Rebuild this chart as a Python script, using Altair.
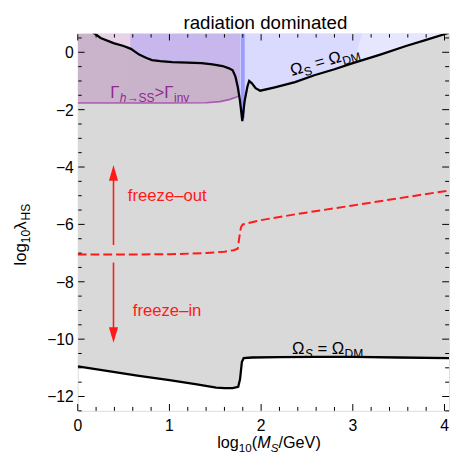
import altair as alt
import pandas as pd

# ---------------- data ----------------
upper_x = [0.12, 0.25, 0.39, 0.50, 0.58, 0.67, 0.75, 0.81, 0.90, 1.03, 1.20, 1.35, 1.47, 1.58, 1.65,
           1.69, 1.72, 1.745, 1.77, 1.795, 1.82, 1.85, 1.87, 1.90, 1.94, 1.99, 2.15, 2.37, 2.58,
           2.80, 3.00, 3.30, 3.58, 3.80, 4.05]
upper_y = [0.80, 0.50, 0.32, 0.22, 0.12, -0.08, -0.20, -0.27, -0.31, -0.34, -0.36, -0.38, -0.42,
           -0.48, -0.56, -0.63, -0.85, -1.20, -1.70, -2.40, -1.70, -1.20, -1.00, -1.08, -1.25,
           -1.34, -1.22, -1.04, -0.80, -0.59, -0.38, -0.08, 0.22, 0.43, 0.68]

lower_x = [0.00, 0.30, 0.65, 1.00, 1.30, 1.51, 1.60, 1.69, 1.75, 1.77, 1.79, 1.81, 1.90, 2.20,
           2.60, 3.00, 3.50, 4.05]
lower_y = [-10.95, -11.10, -11.27, -11.43, -11.58, -11.69, -11.71, -11.71, -11.66, -11.40,
           -10.80, -10.66, -10.64, -10.63, -10.62, -10.62, -10.64, -10.66]

fo_x = [0.00, 0.50, 1.00, 1.40, 1.60, 1.70, 1.745, 1.76, 1.78, 1.80, 2.00, 2.37, 3.00, 3.50, 4.05]
fo_y = [-7.05, -7.05, -7.04, -7.00, -6.95, -6.90, -6.85, -6.50, -6.10, -6.00, -5.85, -5.65,
        -5.34, -5.09, -4.82]

purple_x = [0.00, 1.00, 1.40, 1.55, 1.65, 1.72, 1.77]
purple_y = [-1.77, -1.77, -1.76, -1.72, -1.65, -1.58, -1.50]

blue_start = 0.58          # left edge of the blue region
blueB_end = 3.00           # last curve point inside the darker blue patch
blueB_corner = (3.10, 0.70)

band_x = [1.80]
band_y = [-2.30]

arrow_x = [0.39]
up_from, up_to, up_tip = [-6.72], [-4.45], [-3.93]
dn_from, dn_to, dn_tip = [-7.33], [-9.62], [-10.13]

x_major = [0, 1, 2, 3, 4]
x_labels = ["0", "1", "2", "3", "4"]
y_major = [0, -2, -4, -6, -8, -10, -12]
y_labels = ["0", "\u22122", "\u22124", "\u22126", "\u22128", "\u221210", "\u221212"]
x_minor = [round(0.2 * i, 1) for i in range(0, 21) if i % 5 != 0]
y_minor = [-0.5 * i for i in range(-1, 26) if i % 4 != 0]

# ---------------- layout ----------------
W, H = 378, 384
FONT = "Liberation Sans"
Y_TOP = 0.65
XS = alt.Scale(domain=[0, 4.05], nice=False, zero=False)
YS = alt.Scale(domain=[-12.5, Y_TOP], nice=False, zero=False)

GRAY = "#d9d9d9"
RED = "#ff1a1a"
PURPLE_TXT = "#8e2a8e"

def X(f="x", **kw):
    return alt.X(f + ":Q", scale=XS, axis=None, **kw)

def Y(f="y", **kw):
    return alt.Y(f + ":Q", scale=YS, axis=None, **kw)

def with_top(df):
    df = df.copy()
    df["top"] = Y_TOP + 0.1     # areas reach past the frame top; clipped
    return df

upper = pd.DataFrame({"x": upper_x, "y": upper_y})
lower = pd.DataFrame({"x": lower_x, "y": lower_y})
fo = pd.DataFrame({"x": fo_x, "y": fo_y})
purple = pd.DataFrame({"x": purple_x, "y": purple_y})
blueA = upper[upper.x >= blue_start]
blueB = pd.concat([upper[(upper.x >= blue_start) & (upper.x <= blueB_end)],
                   pd.DataFrame({"x": [blueB_corner[0]], "y": [blueB_corner[1]]})])

layers = []

def region(df, **mk):
    return alt.Chart(with_top(df)).mark_area(clip=True, **mk).encode(
        x=X(), y=Y(), y2="top:Q")

layers.append(region(lower, color=GRAY))                 # gray band
layers.append(region(upper, color="white"))              # white above upper curve
layers.append(region(purple, color="#96309a", opacity=0.22))
layers.append(alt.Chart(purple).mark_line(color="#a040a8", strokeWidth=1.6, opacity=0.8,
                                          clip=True).encode(x=X(), y=Y()))
layers.append(region(blueA, color="#6666ff", opacity=0.16, stroke="#6a6aff",
                     strokeWidth=1.5, strokeOpacity=0.8))
layers.append(region(blueB, color="#6666ff", opacity=0.09, stroke="#6a6aff",
                     strokeWidth=1.5, strokeOpacity=0.8))
band = with_top(pd.DataFrame({"x": band_x, "y": band_y}))
layers.append(alt.Chart(band).mark_rule(color="#6a6aff", strokeWidth=4, opacity=0.55,
                                        clip=True).encode(x=X(), y=Y(), y2="top:Q"))

# curves
layers.append(alt.Chart(upper).mark_line(color="black", strokeWidth=2.3, clip=True).encode(
    x=X(), y=Y()))
layers.append(alt.Chart(lower).mark_line(color="black", strokeWidth=2.3, clip=True).encode(
    x=X(), y=Y()))
layers.append(alt.Chart(fo).mark_line(color=RED, strokeWidth=2, strokeDash=[9, 4],
                                      clip=True).encode(x=X(), y=Y()))

# arrows
up = pd.DataFrame({"x": arrow_x, "y": up_from, "y2": up_to, "tip": up_tip})
dn = pd.DataFrame({"x": arrow_x, "y": dn_from, "y2": dn_to, "tip": dn_tip})
layers.append(alt.Chart(up).mark_rule(color=RED, strokeWidth=1.6).encode(x=X(), y=Y(), y2="y2:Q"))
layers.append(alt.Chart(dn).mark_rule(color=RED, strokeWidth=1.6).encode(x=X(), y=Y(), y2="y2:Q"))
layers.append(alt.Chart(up).mark_point(shape="M0,0L0.58,2L-0.58,2Z", filled=True, size=256,
                                       color=RED, opacity=1).encode(x=X(), y=Y("tip")))
layers.append(alt.Chart(dn).mark_point(shape="M0,0L0.58,-2L-0.58,-2Z", filled=True, size=256,
                                       color=RED, opacity=1).encode(x=X(), y=Y("tip")))

# inside ticks on all four sides
def ticks_x(vals, L):
    d = pd.DataFrame({"x": vals})
    b = alt.Chart(d).mark_rule(color="black", strokeWidth=1).encode(
        x=X(), y=alt.value(H), y2=alt.value(H - L))
    t = alt.Chart(d).mark_rule(color="black", strokeWidth=1).encode(
        x=X(), y=alt.value(0.5), y2=alt.value(L))
    return [b, t]

def ticks_y(vals, L):
    d = pd.DataFrame({"y": vals})
    l = alt.Chart(d).mark_rule(color="black", strokeWidth=1).encode(
        y=Y(), x=alt.value(0.5), x2=alt.value(L))
    r = alt.Chart(d).mark_rule(color="black", strokeWidth=1).encode(
        y=Y(), x=alt.value(W), x2=alt.value(W - L))
    return [l, r]

layers += ticks_x(x_major, 7) + ticks_x(x_minor, 4) + ticks_y(y_major, 7) + ticks_y(y_minor, 4)

# tick labels
xl = pd.DataFrame({"x": x_major, "t": x_labels})
yl = pd.DataFrame({"y": y_major, "t": y_labels})
layers.append(alt.Chart(xl).mark_text(align="center", baseline="alphabetic", fontSize=16,
                                      font=FONT, color="black").encode(
    x=X(), y=alt.value(H + 20), text="t:N"))
layers.append(alt.Chart(yl).mark_text(align="right", baseline="middle", fontSize=16, dy=1,
                                      font=FONT, color="black").encode(
    y=Y(), x=alt.value(-4), text="t:N"))

# ---------------- rich text helper ----------------
ADV = {'l': 222, 'o': 556, 'g': 556, '1': 556, '0': 556, '(': 333, ')': 333, 'M': 833,
       'S': 667, '/': 278, 'G': 778, 'e': 556, 'V': 667, 'λ': 560, 'H': 722, 'Ω': 768,
       '=': 584, ' ': 278, 'D': 722, 'Γ': 578, 'h': 556, '→': 1000, '>': 584, 'i': 222,
       'n': 556, 'v': 500}

def adv(s, fs):
    return sum(ADV.get(c, 556) for c in s) / 1000 * fs

one = pd.DataFrame({"a": [0]})

def rich(segs, px, py, fs, color="black", angle=0):
    out = []
    off = 0.0
    for text, sub, ital in segs:
        f = fs * 0.72 if sub else fs
        dy = fs * 0.24 if sub else 0
        shown = text.strip(" ")
        lead = len(text) - len(text.lstrip(" "))
        off += lead * adv(" ", f)
        kw = dict(text=shown, align="left", baseline="alphabetic", dx=off, dy=dy,
                  fontSize=f, font=FONT, color=color)
        if ital:
            kw["fontStyle"] = "italic"
        if angle:
            kw["angle"] = angle
        out.append(alt.Chart(one).mark_text(**kw).encode(x=alt.value(px), y=alt.value(py)))
        off += adv(text.lstrip(" "), f)
    return out

N, SUB = False, True
layers += rich([("Ω", N, False), ("S", SUB, True), (" = Ω", N, False), ("DM", SUB, False)],
               218, 326, 17)
layers += rich([("Ω", N, False), ("S", SUB, False), (" = Ω", N, False), ("DM", SUB, False)],
               218, 43, 17, angle=344)
layers += rich([("Γ", N, False), ("h", SUB, True), ("→SS", SUB, False), (">", N, False),
                ("Γ", N, False), ("inv", SUB, False)], 33, 66, 17, color=PURPLE_TXT)
layers += rich([("log", N, False), ("10", SUB, False), ("(", N, False), ("M", N, True),
                ("S", SUB, True), ("/GeV)", N, False)], 142, 422, 16.5)
layers += rich([("log", N, False), ("10", SUB, False), ("λ", N, False), ("HS", SUB, False)],
               -53, 236, 17, angle=270)

layers.append(alt.Chart(one).mark_text(text="freeze–out", align="left", baseline="alphabetic",
                                       fontSize=17, font=FONT, color=RED).encode(
    x=alt.value(51), y=alt.value(170)))
layers.append(alt.Chart(one).mark_text(text="freeze–in", align="left", baseline="alphabetic",
                                       fontSize=17, font=FONT, color=RED).encode(
    x=alt.value(56), y=alt.value(287)))
layers.append(alt.Chart(one).mark_text(text="radiation dominated", align="center",
                                       baseline="alphabetic", fontSize=19, font=FONT,
                                       color="black").encode(
    x=alt.value(W / 2 + 2), y=alt.value(-5)))

chart = alt.layer(*layers).properties(
    width=W, height=H,
    autosize=alt.AutoSizeParams(type="none"),
    padding={"left": 71, "top": 22, "right": 4, "bottom": 50},
).configure_view(stroke="#333333", strokeWidth=1.2).configure(background="white")

chart.save("out.html", embed_options={"renderer": "svg", "actions": False})
